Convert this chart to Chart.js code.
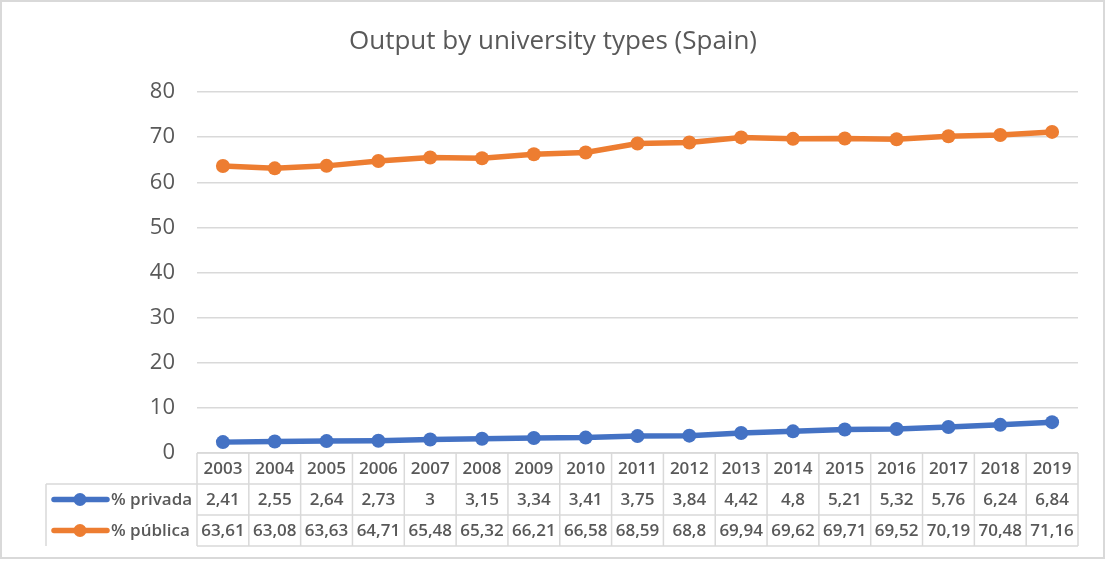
<!DOCTYPE html>
<html>
<head>
<meta charset="utf-8">
<script src="https://cdn.jsdelivr.net/npm/chart.js@4.4.1/dist/chart.umd.min.js"></script>
<style>
  html, body { margin: 0; padding: 0; background: #fff; }
  #wrap { position: relative; width: 1110px; height: 564px; }
</style>
</head>
<body>
<div id="wrap"><canvas id="myChart" width="1110" height="564"></canvas></div>
<script>
const years = ['2003', '2004', '2005', '2006', '2007', '2008', '2009', '2010', '2011',
    '2012', '2013', '2014', '2015', '2016', '2017', '2018', '2019'];
const privada = [2.41, 2.55, 2.64, 2.73, 3, 3.15, 3.34, 3.41, 3.75, 3.84, 4.42, 4.8, 5.21, 5.32, 5.76, 6.24, 6.84];
const publica = [63.61, 63.08, 63.63, 64.71, 65.48, 65.32, 66.21, 66.58, 68.59, 68.8, 69.94, 69.62, 69.71, 69.52, 70.19, 70.48, 71.16];
const seriesNames = ['% privada', '% pública'];
const chartTitle = 'Output by university types (Spain)';

const textColor = '#595959';
const lineGrey = '#d9d9d9';
const blue = '#4472C4';
const orange = '#ED7D31';

// number like Excel with comma decimal
function fmt(v) {
    return String(v).replace('.', ',');
}

// draws the title, the outer frame and the data table under the plot
const tablePlugin = {
    id: 'dataTable',
    afterDraw(chart) {
        const ctx = chart.ctx;
        const x = chart.scales.x;
        const area = chart.chartArea;
        const half = (x.getPixelForValue(1) - x.getPixelForValue(0)) / 2;
        const left = x.getPixelForValue(0) - half;
        const right = x.getPixelForValue(years.length - 1) + half;
        const legendLeft = 46;
        const rowH = 31;
        const top = area.bottom;

        ctx.save();
        // outer frame
        ctx.strokeStyle = lineGrey;
        ctx.lineWidth = 2;
        ctx.strokeRect(1, 1, 1103, 557);

        // title
        ctx.fillStyle = textColor;
        ctx.font = '26px "Open Sans"';
        ctx.textAlign = 'center';
        ctx.textBaseline = 'middle';
        ctx.fillText(chartTitle, 553, 42);

        // table grid
        ctx.strokeStyle = lineGrey;
        ctx.lineWidth = 1.5;
        ctx.beginPath();
        ctx.moveTo(left, top); ctx.lineTo(right, top);
        for (let r = 1; r <= 3; r++) {
            ctx.moveTo(r === 1 ? legendLeft : left, top + r * rowH);
            ctx.lineTo(right, top + r * rowH);
        }
        for (let i = 0; i <= years.length; i++) {
            const cx = left + i * half * 2;
            ctx.moveTo(cx, top);
            ctx.lineTo(cx, top + 3 * rowH);
        }
        ctx.moveTo(legendLeft, top + rowH);
        ctx.lineTo(legendLeft, top + 3 * rowH);
        ctx.stroke();

        // cell texts
        ctx.fillStyle = textColor;
        ctx.font = '600 17px "Open Sans"';
        ctx.textAlign = 'center';
        const rows = [years, privada.map(fmt), publica.map(fmt)];
        rows.forEach((row, r) => {
            const cy = top + r * rowH + rowH / 2 + 1;
            row.forEach((txt, i) => {
                ctx.fillText(txt, x.getPixelForValue(i), cy);
            });
        });

        // legend keys inside the table
        [blue, orange].forEach((col, k) => {
            const cy = top + (k + 1) * rowH + rowH / 2;
            ctx.strokeStyle = col;
            ctx.lineWidth = 5.5;
            ctx.lineCap = 'round';
            ctx.beginPath();
            ctx.moveTo(54, cy); ctx.lineTo(107, cy);
            ctx.stroke();
            ctx.fillStyle = col;
            ctx.beginPath();
            ctx.arc(80, cy, 6.5, 0, Math.PI * 2);
            ctx.fill();
            ctx.fillStyle = textColor;
            ctx.textAlign = 'left';
            ctx.fillText(seriesNames[k], 111, cy + 1);
        });
        ctx.restore();
    }
};

const ctx = document.getElementById('myChart').getContext('2d');
const myChart = new Chart(ctx, {
    type: 'line',
    data: {
        labels: years,
        datasets: [{
            label: seriesNames[0],
            data: privada,
            borderColor: blue,
            backgroundColor: blue,
            borderWidth: 5.5,
            pointRadius: 7,
            pointBorderWidth: 0,
            tension: 0
        }, {
            label: seriesNames[1],
            data: publica,
            borderColor: orange,
            backgroundColor: orange,
            borderWidth: 5.5,
            pointRadius: 7,
            pointBorderWidth: 0,
            tension: 0
        }]
    },
    options: {
        responsive: false,
        animation: false,
        layout: { padding: { top: 92, left: 0, right: 32, bottom: 111 } },
        plugins: {
            legend: { display: false },
            title: { display: false },
            tooltip: { enabled: false }
        },
        scales: {
            x: {
                display: false,
                offset: true
            },
            y: {
                min: 0,
                max: 80,
                ticks: {
                    stepSize: 10,
                    color: textColor,
                    font: { family: 'Open Sans', size: 22 },
                    padding: 22
                },
                grid: { color: lineGrey, lineWidth: 1.5, drawTicks: false },
                border: { display: false },
                afterFit(scale) { scale.width = 197; }
            }
        }
    },
    plugins: [tablePlugin]
});
</script>
</body>
</html>
